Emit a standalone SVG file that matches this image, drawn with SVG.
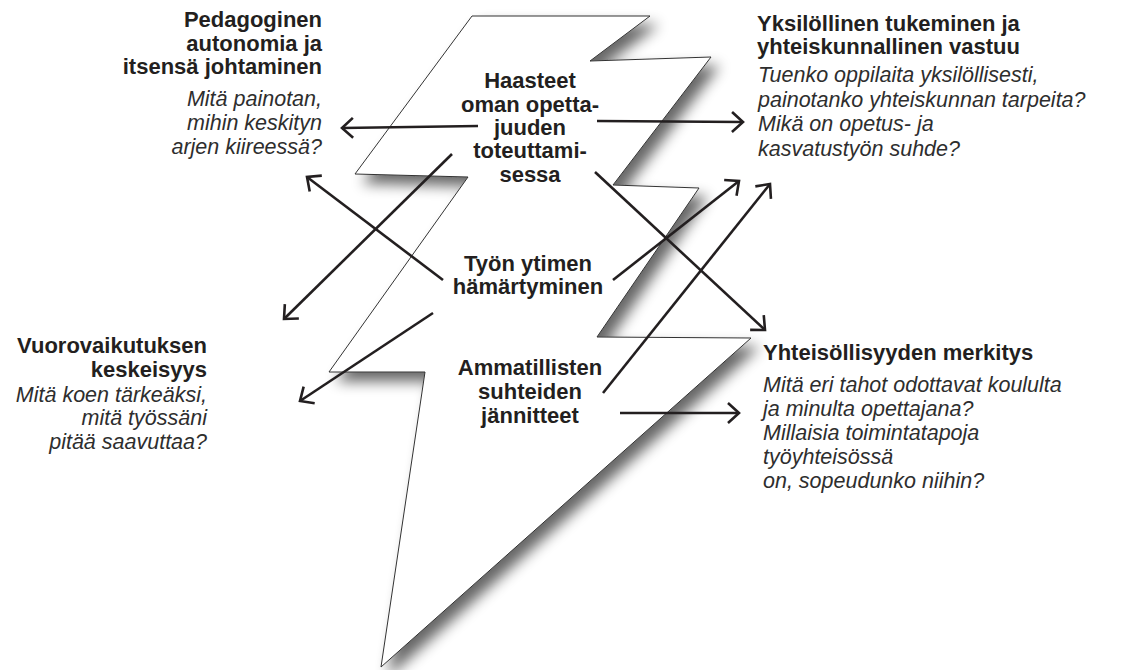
<svg xmlns="http://www.w3.org/2000/svg" width="1121" height="670" viewBox="0 0 1121 670">
<style>
.b{font-family:"Liberation Sans",Arial,sans-serif;font-weight:bold;font-size:22px;fill:#231f20}
.i{font-family:"Liberation Sans",Arial,sans-serif;font-style:italic;font-size:21.5px;fill:#2e2e2e}
.e{text-anchor:end}
.m{text-anchor:middle}
.a{fill:none;stroke:#231f20;stroke-width:2.6;marker-end:url(#ah)}
</style>
<defs>
<filter id="sh" x="-20%" y="-20%" width="140%" height="140%">
<feGaussianBlur in="SourceAlpha" stdDeviation="7"/>
<feOffset dx="8" dy="9" result="o"/>
<feComponentTransfer><feFuncA type="linear" slope="0.6"/></feComponentTransfer>
<feMerge><feMergeNode/><feMergeNode in="SourceGraphic"/></feMerge>
</filter>
<marker id="ah" markerUnits="userSpaceOnUse" viewBox="-16 -14 20 28" markerWidth="20" markerHeight="28" refX="0" refY="0" orient="auto" overflow="visible">
<path d="M-11,-10 L0,0 L-11,10" fill="none" stroke="#231f20" stroke-width="2.6"/>
</marker>
</defs>
<rect width="1121" height="670" fill="#fff"/>
<g id="bolt">
<polygon points="472,16 650,16 590,61 711,57 613,185 699,188 597,337 751,338 381,667 425,372 329,372 468,177 355,174" fill="#fff" stroke="#333" stroke-width="1" stroke-linejoin="miter" filter="url(#sh)"/>
</g>
<g id="connectors">
<line class="a" x1="478" y1="126" x2="342" y2="128"/>
<line class="a" x1="597" y1="121" x2="743" y2="122"/>
<line class="a" x1="595" y1="172" x2="765" y2="330"/>
<line class="a" x1="452" y1="154" x2="284" y2="319"/>
<line class="a" x1="443" y1="280" x2="307" y2="177"/>
<line class="a" x1="613" y1="280" x2="739" y2="181"/>
<line class="a" x1="603" y1="393" x2="770" y2="184"/>
<line class="a" x1="620" y1="413" x2="739" y2="413"/>
<line class="a" x1="433" y1="313" x2="300" y2="401"/>
</g>
<g id="center-haasteet">
<text class="b m" x="530" y="88">Haasteet</text>
<text class="b m" x="530" y="112">oman opetta-</text>
<text class="b m" x="530" y="135">juuden</text>
<text class="b m" x="530" y="158">toteuttami-</text>
<text class="b m" x="530" y="182">sessa</text>
</g>
<g id="center-tyon">
<text class="b m" x="528" y="271">Työn ytimen</text>
<text class="b m" x="528" y="294">hämärtyminen</text>
</g>
<g id="center-ammatillisten">
<text class="b m" x="530" y="375">Ammatillisten</text>
<text class="b m" x="530" y="399">suhteiden</text>
<text class="b m" x="530" y="423">jännitteet</text>
</g>
<g id="pedagoginen">
<text class="b e" x="322" y="27">Pedagoginen</text>
<text class="b e" x="322" y="51">autonomia ja</text>
<text class="b e" x="322" y="74">itsensä johtaminen</text>
<text class="i e" x="322" y="106">Mitä painotan,</text>
<text class="i e" x="322" y="130">mihin keskityn</text>
<text class="i e" x="322" y="154">arjen kiireessä?</text>
</g>
<g id="yksilollinen">
<text class="b" x="757" y="31">Yksilöllinen tukeminen ja</text>
<text class="b" x="757" y="54">yhteiskunnallinen vastuu</text>
<text class="i" x="758" y="82">Tuenko oppilaita yksilöllisesti,</text>
<text class="i" x="758" y="107">painotanko yhteiskunnan tarpeita?</text>
<text class="i" x="758" y="131">Mikä on opetus- ja</text>
<text class="i" x="758" y="156">kasvatustyön suhde?</text>
</g>
<g id="vuorovaikutus">
<text class="b e" x="207" y="353">Vuorovaikutuksen</text>
<text class="b e" x="207" y="377">keskeisyys</text>
<text class="i e" x="207" y="402">Mitä koen tärkeäksi,</text>
<text class="i e" x="207" y="425">mitä työssäni</text>
<text class="i e" x="207" y="449">pitää saavuttaa?</text>
</g>
<g id="yhteisollisyys">
<text class="b" x="763" y="360">Yhteisöllisyyden merkitys</text>
<text class="i" x="763" y="392">Mitä eri tahot odottavat koululta</text>
<text class="i" x="763" y="416">ja minulta opettajana?</text>
<text class="i" x="763" y="440">Millaisia toimintatapoja</text>
<text class="i" x="763" y="464">työyhteisössä</text>
<text class="i" x="763" y="488">on, sopeudunko niihin?</text>
</g>
</svg>
